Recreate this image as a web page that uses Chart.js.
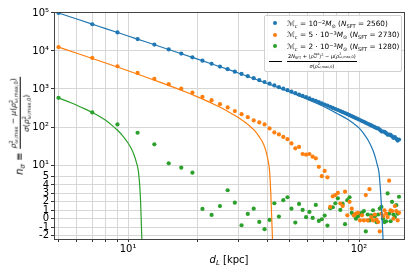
<!DOCTYPE html>
<html>
<head>
<meta charset="utf-8">
<script src="https://cdn.jsdelivr.net/npm/chart.js@4.4.1/dist/chart.umd.min.js"></script>
<style>
  body { margin: 0; background: #fff; }
  #wrap { position: relative; width: 415px; height: 277px; font-family: 'DejaVu Sans', sans-serif; color: #000; }
  canvas { position: absolute; left: 0; top: 0; }
  .sb { font-size: 0.7em; vertical-align: -0.3em; line-height: 0; }
  .sp { font-size: 0.7em; vertical-align: 0.45em; line-height: 0; }
  .ss { display: inline-flex; flex-direction: column; font-size: 0.68em; line-height: 0.95; vertical-align: middle; }
  .frac { display: inline-flex; flex-direction: column; align-items: center; vertical-align: middle; }
  .frac .num { border-bottom: 0.8px solid #000; padding: 0 1px 1px 1px; }
  .frac .den { padding-top: 1px; }
  #xtitle { position: absolute; font-size: 10px; white-space: nowrap; transform: translate(-50%, -50%); }
  #ytitle { position: absolute; font-size: 10px; white-space: nowrap; transform: translate(-50%, -50%) rotate(-90deg); }
  #ytitle .frac { font-size: 7.5px; }
  #legend { position: absolute; width: 136px; height: 55px; border: 1px solid #d0d0d0; border-radius: 2px;
            background: rgba(255,255,255,0.85); font-size: 7.3px; }
  #legend .row { position: relative; height: 11.5px; display: flex; align-items: center; white-space: nowrap; }
  #legend .row.tall { height: 18px; }
  #legend .mk { position: absolute; left: 8px; width: 4px; height: 4px; border-radius: 50%; }
  #legend .ln { position: absolute; left: 4px; width: 13px; height: 0; border-top: 1.4px solid #000; }
  #legend .lbl { position: absolute; left: 22px; }
  #legend .tiny { font-size: 5px; }
</style>
</head>
<body>
<div id="wrap">
  <canvas id="chart" width="415" height="277"></canvas>
  <div id="ytitle"><i>n</i><span class="sb"><i>σ</i></span> ≡ <span class="frac"><span class="num"><i>ρ</i><span class="ss"><span>2</span><span><i>ω</i>,max</span></span> − <i>μ</i>(<i>ρ</i><span class="ss"><span>2</span><span><i>ω</i>,max,0</span></span>)</span><span class="den"><i>σ</i>(<i>ρ</i><span class="ss"><span>2</span><span><i>ω</i>,max,0</span></span>)</span></span></div>
  <div id="xtitle"><i>d</i><span class="sb"><i>L</i></span> [kpc]</div>
  <div id="legend">
    <div style="height:1.5px"></div>
    <div class="row"><span class="mk" style="background:#1f77b4"></span><span class="lbl"><i>ℳ</i><span class="sb"><i>c</i></span> = 10<span class="sp">−2</span><i>M</i><span class="sb">⊙</span> (<i>N</i><span class="sb">SFT</span> = 2560)</span></div>
    <div class="row"><span class="mk" style="background:#ff7f0e"></span><span class="lbl"><i>ℳ</i><span class="sb"><i>c</i></span> = 5 · 10<span class="sp">−3</span><i>M</i><span class="sb">⊙</span> (<i>N</i><span class="sb">SFT</span> = 2730)</span></div>
    <div class="row"><span class="mk" style="background:#2ca02c"></span><span class="lbl"><i>ℳ</i><span class="sb"><i>c</i></span> = 2 · 10<span class="sp">−3</span><i>M</i><span class="sb">⊙</span> (<i>N</i><span class="sb">SFT</span> = 1280)</span></div>
    <div class="row tall"><span class="ln"></span><span class="lbl tiny"><span class="frac"><span class="num">2<i>N</i><span class="sb">SFT</span> + ⟨<i>ρ</i><span class="ss"><span>opt</span><span><i>ω</i></span></span>⟩<span class="sp">2</span> − <i>μ</i>(<i>ρ</i><span class="ss"><span>2</span><span><i>ω</i>,max,0</span></span>)</span><span class="den"><i>σ</i>(<i>ρ</i><span class="ss"><span>2</span><span><i>ω</i>,max,0</span></span>)</span></span></span></div>
  </div>
</div>
<script>
// distances of the simulated points, kpc
const dist = [5, 7, 9, 11, 13, 15, 17, 19, 21, 23,
  25, 27, 29, 31, 33, 35, 37, 39, 41, 43,
  45, 47, 49, 51, 53, 55, 57, 59, 61, 63,
  65, 67, 69, 71, 73, 75, 77, 79, 81, 83,
  85, 87, 89, 91, 93, 95, 97, 99, 101, 103,
  105, 107, 109, 111, 113, 115, 117, 119, 121, 123,
  125, 127, 129, 131, 133, 135, 137, 139, 141, 143,
  145, 147, 149];

// n_sigma for the three chirp masses
const blueN = [100000, 50500, 30800, 20600, 14700, 11000, 8540, 6810, 5560, 4620,
  3890, 3320, 2860, 2490, 2180, 1930, 1710, 1530, 1380, 1240,
  1120, 1020, 930, 850, 780, 715, 660, 610, 565, 520,
  485, 450, 420, 390, 365, 340, 318, 298, 280, 262,
  246, 232, 218, 205, 193, 182, 171, 162, 153, 144,
  137, 129, 122, 116, 110, 104, 99, 94, 92, 85,
  77, 76, 75, 69, 63, 63, 62, 57, 52, 54,
  49, 44, 47];
const orangeN = [12700, 6560, 3970, 2650, 1850, 1340, 1030, 800, 621, 509,
  400, 327, 262, 218, 182, 149, 132, 117, 92, 72,
  64, 55, 48, 37, 27.5, 30, 19.5, 18.7, 19.5, 16.6,
  15, 9, 5.1, 7, 4.9, 1.4, 2.65, 2.8, 3.05, 1.8,
  1.5, 3.2, 0.4, 2.0, 1.2, 0.4, 0.6, 0.7, -0.2, 0.4,
  -0.2, 2.8, -0.2, 3.5, 0.2, -0.2, 0.5, -0.1, -0.4, -1.5,
  0.6, 0.3, 1.0, 0.6, 0.2, 4.5, 1.0, 0.9, 0.0, 1.5,
  0.9, -0.2, 0.7];
const greenN = [585, 242, 117, 70.6, 35, 11.1, 8.5, 6.3, 1.16, 0.45,
  1.5, 3.37, 1.9, -0.77, 0.57, 1.19, -0.38, -1.24, -0.14, 1.83,
  0.25, 2.2, 2.54, 1.19, -0.46, 1.75, 1.04, 0.18, 0.8, 0.1,
  1.63, -0.26, -0.06, 0.37, -0.81, 1.24, 1.36, 1.83, 2.42, 1.04,
  1.75, -0.65, 2.2, 2.54, 0.7, 0.4, 0.0, 0.3, 0.6, 0.7,
  0.9, -1.5, 0.5, -0.2, 0.4, 1.0, 0.3, -0.4, 0.5, 1.2,
  1.4, 0.0, -0.4, -0.3, 3.0, 0.6, -0.3, 2.0, 0.5, 0.2,
  1.6, 0.6, 2.6];

// theory curves
const blueLineD = [5, 6, 7, 8, 10, 12, 15, 20, 25, 30, 40, 50, 60, 70, 80, 90, 95, 100, 105, 110,
  115, 118, 120, 122, 124, 125, 126, 126.5, 127, 127.5, 128];
const blueLineN = [100000, 69300, 50800, 38800, 24800, 17200, 10950, 6100, 3850, 2640, 1400, 840, 530, 350, 230, 155, 122, 95, 66, 43,
  24, 15, 10, 6.5, 3.2, 1.6, -0.2, -1.3, -2.2, -3.5, -5];
const orangeLineD = [5, 6, 7, 8, 10, 12, 14, 16, 18, 20, 22, 24, 26, 28, 30, 32, 34, 35.5, 37, 38.5,
  39.5, 40.5, 41, 41.5, 42, 42.5];
const orangeLineN = [12620, 8700, 6350, 4820, 3020, 2040, 1450, 1070, 808, 620, 481, 375, 295, 228, 178, 135, 100, 78, 55, 37,
  24, 12, 7, 3, -0.8, -4.5];
const greenLineD = [5, 5.5, 6, 6.5, 7, 7.5, 8, 8.5, 9, 9.5, 10, 10.3, 10.6, 10.9, 11.1, 11.3, 11.4, 11.5, 11.6];
const greenLineN = [585, 465, 375, 300, 240, 192, 150, 112, 82, 58, 38, 28, 19, 11, 6.5, 2.8, 0.0, -3.2, -5];

// axis ticks
const xTickValues = [5, 6, 7, 8, 9, 10, 20, 30, 40, 50, 60, 70, 80, 90, 100];
const xTickLabels = ['', '', '', '', '', '10¹', '', '', '', '', '', '', '', '', '10²'];
const yTickValues = [-2, -1, 0, 1, 2, 3, 4, 5, 10, 100, 1000, 10000, 100000];
const yTickLabels = ['-2', '-1', '0', '1', '2', '3', '4', '5', '10¹', '10²', '10³', '10⁴', '10⁵'];

const BLUE = '#1f77b4', ORANGE = '#ff7f0e', GREEN = '#2ca02c';

// symlog like matplotlib (linthresh 5, linscale 1)
const LINTHRESH = 5;
const LINSCALE = 1 / (1 - 1 / 10);
function symlog(v) {
  const a = Math.abs(v);
  if (a <= LINTHRESH) return v * LINSCALE;
  return Math.sign(v) * LINTHRESH * (LINSCALE + Math.log10(a / LINTHRESH));
}
function symexp(t) {
  const a = Math.abs(t);
  if (a <= LINTHRESH * LINSCALE) return t / LINSCALE;
  return Math.sign(t) * LINTHRESH * Math.pow(10, a / LINTHRESH - LINSCALE);
}

class SymlogScale extends Chart.Scale {
  parse(raw) {
    return raw === null || raw === undefined ? null : +raw;
  }
  determineDataLimits() {
    this.min = this.options.min;
    this.max = this.options.max;
  }
  buildTicks() {
    return yTickValues.map(v => ({ value: v }));
  }
  configure() {
    super.configure();
    this._tmin = symlog(this.min);
    this._tmax = symlog(this.max);
  }
  getPixelForValue(value) {
    return this.getPixelForDecimal((symlog(value) - this._tmin) / (this._tmax - this._tmin));
  }
  getValueForPixel(pixel) {
    return symexp(this._tmin + this.getDecimalForPixel(pixel) * (this._tmax - this._tmin));
  }
  getLabelForValue(value) {
    return String(value);
  }
}
SymlogScale.id = 'symlog';
SymlogScale.defaults = {};
Chart.register(SymlogScale);

const pts = (xs, ys) => xs.map((x, i) => ({ x: x, y: ys[i] }));

const dotSet = (data, color) => ({
  data: pts(dist, data),
  backgroundColor: color,
  borderColor: color,
  pointRadius: 2.1,
  pointBorderWidth: 0,
  pointHoverRadius: 2.1,
  order: 1
});
const lineSet = (xs, ys, color) => ({
  data: pts(xs, ys),
  showLine: true,
  borderColor: color,
  backgroundColor: color,
  borderWidth: 1.2,
  pointRadius: 0,
  pointHoverRadius: 0,
  cubicInterpolationMode: 'monotone',
  fill: false,
  order: 0
});

const framePlugin = {
  id: 'frame',
  afterDraw(chart) {
    const { ctx, chartArea: a } = chart;
    ctx.save();
    ctx.strokeStyle = '#444';
    ctx.lineWidth = 1;
    ctx.strokeRect(Math.round(a.left) + 0.5, Math.round(a.top) + 0.5, Math.round(a.right - a.left), Math.round(a.bottom - a.top));
    ctx.restore();
  }
};

Chart.defaults.font.family = "'DejaVu Sans', sans-serif";
Chart.defaults.font.size = 10;
Chart.defaults.color = '#000';

const gridStyle = { color: '#d6d6d6', lineWidth: 1, tickLength: 3, tickColor: '#333' };

const chart = new Chart(document.getElementById('chart'), {
  type: 'scatter',
  data: {
    datasets: [
      dotSet(blueN, BLUE),
      dotSet(orangeN, ORANGE),
      dotSet(greenN, GREEN),
      lineSet(blueLineD, blueLineN, BLUE),
      lineSet(orangeLineD, orangeLineN, ORANGE),
      lineSet(greenLineD, greenLineN, GREEN)
    ]
  },
  options: {
    responsive: false,
    animation: false,
    devicePixelRatio: 1,
    layout: { padding: { top: 12, right: 11, left: 0, bottom: 0 } },
    plugins: { legend: { display: false }, tooltip: { enabled: false } },
    scales: {
      x: {
        type: 'logarithmic',
        position: 'bottom',
        min: 4.78,
        max: 156.6,
        bounds: 'data',
        afterBuildTicks: (scale) => {
          scale.ticks = xTickValues.map(v => ({ value: v, major: false }));
        },
        afterFit: (scale) => { scale.height = 38; },
        ticks: {
          autoSkip: false,
          maxRotation: 0,
          padding: 1,
          callback: (v) => {
            const i = xTickValues.indexOf(v);
            return i >= 0 ? xTickLabels[i] : '';
          }
        },
        grid: gridStyle,
        border: { color: '#444', width: 1 }
      },
      y: {
        type: 'symlog',
        position: 'left',
        min: -2.4,
        max: 106000,
        afterFit: (scale) => { scale.width = 54; },
        ticks: {
          autoSkip: false,
          padding: 2,
          callback: (v) => yTickLabels[yTickValues.indexOf(v)]
        },
        grid: gridStyle,
        border: { color: '#444', width: 1 }
      }
    }
  },
  plugins: [framePlugin]
});

// place the html titles and legend around the plot area
const area = chart.chartArea;
const xt = document.getElementById('xtitle');
xt.style.left = ((area.left + area.right) / 2) + 'px';
xt.style.top = (area.bottom + 20) + 'px';
const yt = document.getElementById('ytitle');
yt.style.left = '20px';
yt.style.top = ((area.top + area.bottom) / 2) + 'px';
const lg = document.getElementById('legend');
lg.style.left = (area.right - 140) + 'px';
lg.style.top = (area.top + 3) + 'px';
</script>
</body>
</html>
